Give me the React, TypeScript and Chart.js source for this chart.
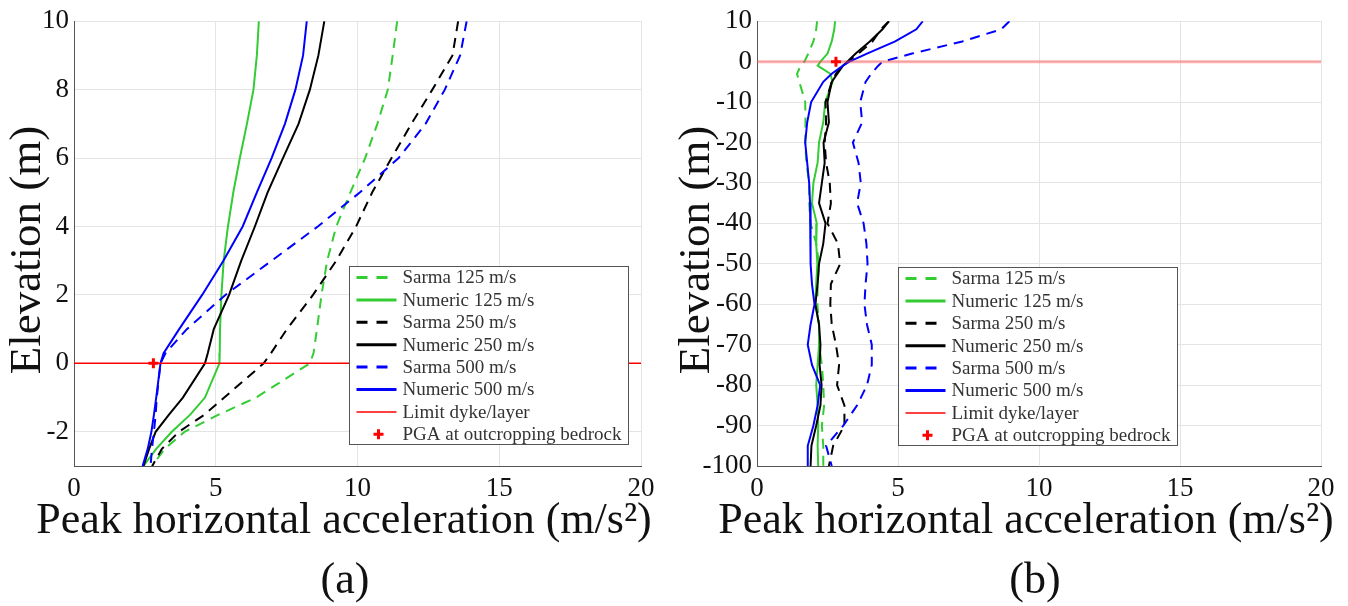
import React, { useEffect, useRef } from 'react';
import { Chart, registerables } from 'chart.js';

Chart.register(...registerables);

const FONT = "'Liberation Serif', 'Times New Roman', serif";

const seriesLabels = [
  'Sarma 125 m/s',
  'Numeric 125 m/s',
  'Sarma 250 m/s',
  'Numeric 250 m/s',
  'Sarma 500 m/s',
  'Numeric 500 m/s',
  'Limit dyke/layer',
  'PGA at outcropping bedrock',
];
const seriesColors = ['#33cc33', '#33cc33', '#000000', '#000000', '#0000ff', '#0000ff'];
const seriesDashed = [true, false, true, false, true, false];

// ---------- Panel (a) ----------
const elevA = [10, 9, 8, 7, 6, 5, 4, 3, 2, 1, 0.3, 0, -1, -1.5, -2, -2.5, -3];
const sarma125A = [11.4, 11.24, 11.07, 10.7, 10.27, 9.75, 9.25, 8.93, 8.73, 8.57, 8.45, 8.32, 6.42, 5.1, 3.9, 3.2, 2.75];
const numeric125A = [6.52, 6.45, 6.33, 6.1, 5.85, 5.62, 5.43, 5.28, 5.2, 5.15, 5.14, 5.13, 4.62, 4.1, 3.45, 2.9, 2.45];
const sarma250A = [13.55, 13.35, 12.64, 11.9, 11.2, 10.52, 9.95, 9.25, 8.43, 7.51, 6.95, 6.69, 5.3, 4.6, 3.7, 3.1, 2.76];
const numeric250A = [8.83, 8.62, 8.32, 7.92, 7.37, 6.83, 6.38, 5.9, 5.47, 4.93, 4.72, 4.62, 3.84, 3.35, 2.88, 2.65, 2.45];
const sarma500A = [13.85, 13.62, 13.08, 12.4, 11.45, 10.09, 8.6, 6.97, 5.34, 3.98, 3.23, 3.05, 2.92, 2.88, 2.82, 2.75, 2.7];
const numeric500A = [8.21, 8.08, 7.81, 7.44, 6.97, 6.45, 5.95, 5.27, 4.52, 3.71, 3.16, 3.05, 2.9, 2.82, 2.73, 2.6, 2.42];
const limitXA = [0, 20];
const limitYA = [0, 0];
const pgaXA = [2.8];
const pgaYA = [0];
const xTicksA = [0, 5, 10, 15, 20];
const yTicksA = [-2, 0, 2, 4, 6, 8, 10];

// ---------- Panel (b) ----------
const elevB = [10, 8, 5, 2, 0, -1, -3, -5, -10, -15, -20, -25, -30, -35, -40, -45, -50, -55, -60, -65, -70, -75, -80, -85, -90, -95, -100];
const sarma125B = [2.13, 2.1, 2.0, 1.82, 1.68, 1.55, 1.42, 1.5, 1.71, 1.72, 1.71, 1.75, 1.85, 1.85, 1.9, 2.1, 2.2, 2.15, 2.14, 2.2, 2.2, 2.3, 2.35, 2.38, 2.3, 2.35, 2.35];
const numeric125B = [2.77, 2.74, 2.65, 2.5, 2.25, 2.15, 2.6, 2.68, 2.42, 2.35, 2.2, 2.15, 2.0, 1.95, 2.12, 2.1, 2.14, 2.1, 2.07, 2.2, 2.2, 2.15, 2.1, 2.15, 2.17, 2.15, 2.17];
const sarma250B = [4.68, 4.39, 4.1, 3.6, 3.23, 3.0, 2.8, 2.65, 2.43, 2.45, 2.4, 2.45, 2.58, 2.62, 2.5, 2.87, 2.95, 2.62, 2.6, 2.65, 2.8, 2.91, 2.84, 3.1, 3.1, 2.7, 2.55];
const numeric250B = [4.68, 4.45, 4.0, 3.5, 3.2, 3.05, 2.85, 2.65, 2.5, 2.55, 2.36, 2.4, 2.3, 2.2, 2.43, 2.35, 2.2, 2.15, 2.07, 2.2, 2.25, 2.22, 2.29, 2.25, 2.1, 1.93, 1.9];
const sarma500B = [8.95, 8.66, 7.28, 5.5, 4.45, 4.3, 4.05, 3.85, 3.66, 3.73, 3.4, 3.6, 3.68, 3.55, 3.78, 3.88, 3.92, 3.85, 3.81, 3.9, 4.07, 4.07, 3.9, 3.55, 3.06, 2.45, 2.65];
const numeric500B = [5.88, 5.65, 4.9, 3.9, 3.28, 3.05, 2.65, 2.35, 1.92, 1.78, 1.71, 1.78, 1.85, 1.88, 1.9, 1.9, 1.9, 1.95, 2.04, 1.9, 1.8, 1.95, 2.24, 2.15, 2.0, 1.8, 1.8];
const limitXB = [0, 20];
const limitYB = [0, 0];
const pgaXB = [2.8];
const pgaYB = [0];
const xTicksB = [0, 5, 10, 15, 20];
const yTicksB = [-100, -90, -80, -70, -60, -50, -40, -30, -20, -10, 0, 10];

const xTitle = 'Peak horizontal acceleration (m/s\u00B2)';
const yTitle = 'Elevation (m)';

const toPts = (xs: number[], ys: number[]) => xs.map((x, i) => ({ x, y: ys[i] }));

const insideLegend = {
  id: 'insideLegend',
  afterDatasetsDraw(chart: any, _args: any, opts: any) {
    const { ctx, chartArea } = chart;
    const x0 = Math.round(chartArea.left + opts.dx) + 0.5;
    const y0 = Math.round(chartArea.top + opts.dy) + 0.5;
    const w = 279;
    const h = 178;
    ctx.save();
    ctx.fillStyle = '#ffffff';
    ctx.fillRect(x0, y0, w, h);
    ctx.strokeStyle = '#555555';
    ctx.lineWidth = 1;
    ctx.setLineDash([]);
    ctx.strokeRect(x0, y0, w, h);
    chart.data.datasets.forEach((ds: any, i: number) => {
      const cy = y0 + 11 + i * 22.4;
      if (ds.pointStyle === 'cross') {
        ctx.setLineDash([]);
        ctx.strokeStyle = '#ff0000';
        ctx.lineWidth = 3;
        ctx.beginPath();
        ctx.moveTo(x0 + 29 - 5, cy);
        ctx.lineTo(x0 + 29 + 5, cy);
        ctx.moveTo(x0 + 29, cy - 5);
        ctx.lineTo(x0 + 29, cy + 5);
        ctx.stroke();
      } else {
        ctx.setLineDash(ds.borderDash && ds.borderDash.length ? [11, 9] : []);
        ctx.strokeStyle = ds.legendColor || ds.borderColor;
        ctx.lineWidth = ds.legendWidth || 3;
        ctx.beginPath();
        ctx.moveTo(x0 + 7, cy);
        ctx.lineTo(x0 + 47, cy);
        ctx.stroke();
      }
      ctx.setLineDash([]);
      ctx.fillStyle = '#333333';
      ctx.font = `19px ${FONT}`;
      ctx.textBaseline = 'middle';
      ctx.textAlign = 'left';
      ctx.fillText(ds.label, x0 + 53, cy + 1);
    });
    ctx.restore();
  },
};

const axisTitles = {
  id: 'axisTitles',
  afterDraw(chart: any, _args: any, opts: any) {
    const ctx = chart.ctx;
    ctx.save();
    ctx.fillStyle = '#111111';
    ctx.textAlign = 'center';
    ctx.textBaseline = 'middle';
    ctx.font = `44px ${FONT}`;
    ctx.fillText(opts.xText, opts.xX, opts.xY);
    ctx.translate(opts.yX, opts.yY);
    ctx.rotate(-Math.PI / 2);
    ctx.font = `45px ${FONT}`;
    ctx.fillText(opts.yText, 0, 0);
    ctx.restore();
  },
};

type PanelProps = {
  elev: number[];
  series: number[][];
  limitX: number[];
  limitY: number[];
  limitColor: string;
  limitWidth: number;
  pgaX: number[];
  pgaY: number[];
  xTicks: number[];
  yTicks: number[];
  yMin: number;
  yMax: number;
  width: number;
  height: number;
  yAxisWidth: number;
  padRight: number;
  legendDx: number;
  legendDy: number;
  xTitleX: number;
  yTitleX: number;
};

function Panel(p: PanelProps) {
  const ref = useRef<HTMLCanvasElement | null>(null);
  useEffect(() => {
    if (!ref.current) return;
    const datasets: any[] = p.series.map((vals, i) => ({
      label: seriesLabels[i],
      data: toPts(vals, p.elev),
      showLine: true,
      borderColor: seriesColors[i],
      backgroundColor: seriesColors[i],
      borderWidth: 2,
      borderDash: seriesDashed[i] ? [10, 7] : [],
      pointRadius: 0,
      tension: 0,
      order: 7 - i,
    }));
    datasets.push({
      label: seriesLabels[6],
      data: toPts(p.limitX, p.limitY),
      showLine: true,
      borderColor: p.limitColor,
      backgroundColor: p.limitColor,
      borderWidth: p.limitWidth,
      legendColor: '#ff0000',
      legendWidth: 1.5,
      pointRadius: 0,
      order: 1,
    });
    datasets.push({
      label: seriesLabels[7],
      data: toPts(p.pgaX, p.pgaY),
      showLine: false,
      pointStyle: 'cross',
      pointRadius: 5,
      borderWidth: 3,
      borderColor: '#ff0000',
      backgroundColor: '#ff0000',
      order: 0,
    });
    const chart = new Chart(ref.current, {
      type: 'scatter',
      data: { datasets },
      plugins: [insideLegend as any, axisTitles as any],
      options: {
        responsive: false,
        maintainAspectRatio: false,
        animation: false,
        layout: { padding: { left: 0, top: 21, right: p.padRight, bottom: 0 } },
        plugins: {
          legend: { display: false },
          tooltip: { enabled: false },
          insideLegend: { dx: p.legendDx, dy: p.legendDy },
          axisTitles: {
            xText: xTitle,
            yText: yTitle,
            xX: p.xTitleX,
            xY: 521,
            yX: p.yTitleX,
            yY: 250,
          },
        } as any,
        scales: {
          x: {
            type: 'linear',
            min: 0,
            max: 20,
            afterBuildTicks: (s: any) => {
              s.ticks = p.xTicks.map((v) => ({ value: v }));
            },
            afterFit: (s: any) => {
              s.height = p.height - 466;
            },
            grid: { color: '#e4e4e4', drawTicks: false },
            border: { color: '#555555', width: 1 },
            ticks: { font: { family: FONT, size: 27 }, color: '#111111', padding: 7 },
          },
          y: {
            type: 'linear',
            min: p.yMin,
            max: p.yMax,
            afterBuildTicks: (s: any) => {
              s.ticks = p.yTicks.map((v) => ({ value: v }));
            },
            afterFit: (s: any) => {
              s.width = p.yAxisWidth;
            },
            grid: { color: '#e4e4e4', drawTicks: false },
            border: { color: '#555555', width: 1 },
            ticks: { font: { family: FONT, size: 27 }, color: '#111111', padding: 5 },
          },
        },
      } as any,
    });
    return () => chart.destroy();
  }, []);
  return <canvas ref={ref} width={p.width} height={p.height} style={{ display: 'block', width: p.width, height: p.height }} />;
}

export default function App() {
  const captionStyle: React.CSSProperties = {
    position: 'absolute',
    top: 553,
    width: 120,
    textAlign: 'center',
    fontFamily: FONT,
    fontSize: 44,
    lineHeight: '52px',
    color: '#111',
  };
  return (
    <div style={{ position: 'fixed', left: 0, top: 0, width: 1348, height: 606, background: '#fff', overflow: 'hidden' }}>
      <div style={{ position: 'absolute', left: 0, top: 0 }}>
        <Panel
          elev={elevA}
          series={[sarma125A, numeric125A, sarma250A, numeric250A, sarma500A, numeric500A]}
          limitX={limitXA}
          limitY={limitYA}
          limitColor="#ff0000"
          limitWidth={1.5}
          pgaX={pgaXA}
          pgaY={pgaYA}
          xTicks={xTicksA}
          yTicks={yTicksA}
          yMin={-3}
          yMax={10}
          width={690}
          height={560}
          yAxisWidth={74}
          padRight={49}
          legendDx={275}
          legendDy={245}
          xTitleX={344}
          yTitleX={28}
        />
      </div>
      <div style={{ position: 'absolute', left: 670, top: 0 }}>
        <Panel
          elev={elevB}
          series={[sarma125B, numeric125B, sarma250B, numeric250B, sarma500B, numeric500B]}
          limitX={limitXB}
          limitY={limitYB}
          limitColor="rgba(255, 80, 80, 0.45)"
          limitWidth={3}
          pgaX={pgaXB}
          pgaY={pgaYB}
          xTicks={xTicksB}
          yTicks={yTicksB}
          yMin={-100}
          yMax={10}
          width={678}
          height={560}
          yAxisWidth={87}
          padRight={27}
          legendDx={141}
          legendDy={246}
          xTitleX={356}
          yTitleX={27}
        />
      </div>
      <div style={{ ...captionStyle, left: 345 - 60 }}>(a)</div>
      <div style={{ ...captionStyle, left: 1035 - 60 }}>(b)</div>
    </div>
  );
}
